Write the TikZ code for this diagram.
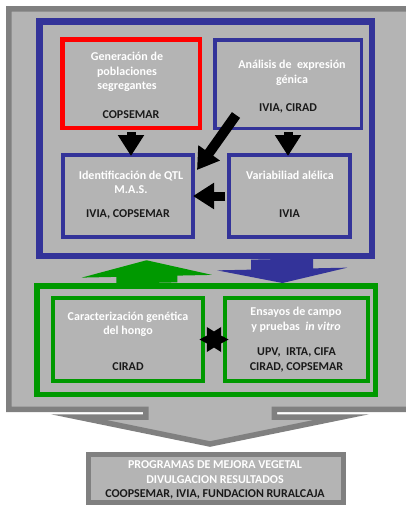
\documentclass[tikz,border=0pt]{standalone}
\usepackage{fontspec}
\setmainfont{Carlito}
\usetikzlibrary{arrows.meta,shapes.geometric,calc}
\definecolor{panel}{RGB}{180,180,180}
\definecolor{rim}{RGB}{128,128,128}
\definecolor{navy}{RGB}{51,51,153}
\definecolor{leaf}{RGB}{0,153,0}
\definecolor{ink}{RGB}{26,26,26}
\begin{document}
\begin{tikzpicture}[x=1pt, y=-1pt, every node/.style={inner sep=0pt, font=\fontsize{12}{14.5}\selectfont\bfseries},
	box/.style={rectangle, fill=panel},
	ttl/.style={text=white, align=center},
	inst/.style={text=ink, align=center},
	blk/.style={line width=9pt, -{Triangle[length=21pt,width=25pt]}},
	garr/.style={leaf, line width=61pt, -{Triangle[length=16pt,width=130pt]}},
	barr/.style={navy, line width=62pt, -{Triangle[length=14pt,width=130pt]}}]
	\useasboundingbox[fill=white] (0,0) rectangle (406,507);
	\draw[rim, fill=panel, line width=5.5pt] (8.75,8.75) -- (420,8.75) -- (420,409.25) -- (274.25,409.25) -- (274.25,417) -- (342,417) -- (210,444) -- (78,417) -- (145.75,417) -- (145.75,409.25) -- (8.75,409.25) -- cycle;
	
	\node (mas) at (205.5,138.5) [box, draw=navy, line width=6.5pt, minimum width=332.5pt, minimum height=234.5pt] {};
	\node (gen) at (131,83.5) [box, draw=red, line width=4.5pt, minimum width=137.5pt, minimum height=88.5pt] {};
	\node (expr) at (288,84) [box, draw=navy, line width=3.5pt, minimum width=146.5pt, minimum height=88.5pt] {};
	\node (ident) at (128,196) [box, draw=navy, line width=4pt, minimum width=130pt, minimum height=82pt] {};
	\node (var) at (289.5,196) [box, draw=navy, line width=4pt, minimum width=121pt, minimum height=82pt] {};
	
	\node (gbox) at (206,340) [box, draw=leaf, line width=5.5pt, minimum width=338.5pt, minimum height=108.5pt] {};
	\node (carac) at (128,339.5) [box, draw=leaf, line width=4pt, minimum width=150pt, minimum height=83pt] {};
	\node (ens) at (296.5,339.5) [box, draw=leaf, line width=4pt, minimum width=143pt, minimum height=83pt] {};
	
	\node (prog) at (215.5,478) [box, draw=rim, line width=5pt, minimum width=255pt, minimum height=48pt] {};
	
	\draw[blk, shorten >=-3pt] ([yshift=-2.25pt]gen.south) to (gen.south |- ident.north);
	\draw[blk, shorten >=-3pt] ([yshift=-1.75pt]expr.south) to (expr.south |- var.north);
	\draw[blk, line width=10pt] ($(expr.south west)+(23,-15)$) to ($(ident.north east)+(2,17)$);
	\draw[blk, shorten >=-2pt] ([xshift=-2pt]var.west) to (ident.east);
	\draw[garr, shorten >=1.25pt] ([xshift=-59pt]gbox.north) to ([xshift=-59pt]mas.south);
	\draw[barr] ([xshift=76.5pt]mas.south) to ([xshift=76.5pt]gbox.north);
	\node (lnk) at ($(carac.east)!0.5!(ens.west)$) [star, star points=6, star point ratio=1.8, shape border rotate=30, fill=black, minimum size=29pt] {};
	
	\node (genT) at (127,72) [ttl] {Generación de\\poblaciones\\segregantes};
	\node (genI) at (131,115) [inst] {COPSEMAR};
	\node (exprT) at (292,73) [ttl] {Análisis de~~expresión\\génica};
	\node (exprI) at (288,108) [inst] {IVIA, CIRAD};
	\node (identT) at (131,182.5) [ttl] {Identificación de QTL\\M.A.S.};
	\node (identI) at (128,214) [inst] {IVIA, COPSEMAR};
	\node (varT) at (290,175) [ttl] {Variabiliad alélica};
	\node (varI) at (289.5,214) [inst] {IVIA};
	\node (caracT) at (128,324.5) [ttl] {Caracterización genética\\del hongo};
	\node (caracI) at (128,367) [inst] {CIRAD};
	\node (ensT) at (296,319.5) [ttl] {Ensayos de campo\\y pruebas~~\textit{in vitro}};
	\node (ensI) at (296.5,360) [inst] {UPV,~~IRTA, CIFA\\CIRAD, COPSEMAR};
	\node (progT) at (215,472) [ttl] {PROGRAMAS DE MEJORA VEGETAL\\DIVULGACION RESULTADOS};
	\node (progI) at (215,494) [inst] {COOPSEMAR, IVIA, FUNDACION RURALCAJA};
\end{tikzpicture}
\end{document}
